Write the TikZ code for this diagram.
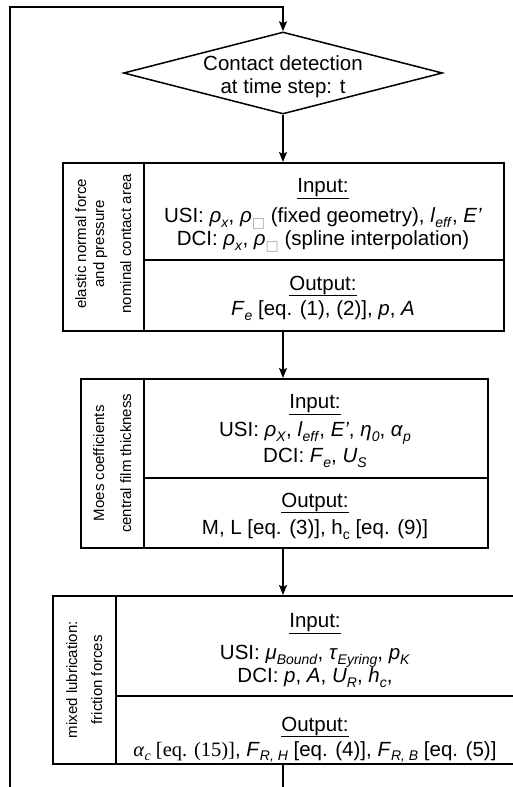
\documentclass[tikz,border=0pt]{standalone}
\usepackage{fontspec}
\setmainfont{Liberation Sans}
\newfontfamily\serifx{Liberation Serif}
\newfontfamily\djv{DejaVu Sans}
\usetikzlibrary{shapes.geometric,arrows.meta}
\newcommand\dn[1]{\raisebox{-0.45ex}{\fontsize{14}{14}\selectfont #1}}
\newcommand\sq{\dn{\color{black!35}\djv □}}
\newcommand\ti[1]{\textit{#1}}
\tikzset{
  frame/.style={draw, line width=1.5pt, inner sep=0pt},
  maintext/.style={font=\fontsize{20.5}{24}\selectfont, inner sep=0pt, anchor=center},
  labtext/.style={font=\fontsize{15}{18}\selectfont, rotate=90, align=center, inner sep=0pt},
  conn/.style={line width=1.5pt, -{Stealth[length=10pt,width=8pt,inset=2pt]}}
}
\begin{document}
\begin{tikzpicture}[x=1pt,y=-1pt]
\useasboundingbox (0,0) rectangle (513,787);
% decision
\node[frame, diamond, minimum width=319pt, minimum height=82pt] (dec) at (283,73) {};
\node[maintext] (dect1) at (283,63) {Contact detection};
\node[maintext] (dect2) at (283,88) {at time step: t};
% box 1
\node[frame, rectangle, anchor=north west, minimum width=81pt, minimum height=168pt] (lab1) at (62,162) {};
\node[frame, rectangle, anchor=north west, minimum width=360pt, minimum height=97pt] (in1) at (143,162) {};
\node[frame, rectangle, anchor=north west, minimum width=360pt, minimum height=71pt] (out1) at (143,259) {};
\node[labtext] (lab1t) at ([yshift=3pt]lab1.center) {elastic normal force\\and pressure\\[9pt]nominal contact area};
\node[maintext] (in1a) at (323,189) {\underline{Input:}};
\node[maintext] (in1b) at (323,218) {USI: \ti{ρ}\dn{\ti{x}}, \ti{ρ}\sq\ (fixed geometry), \ti{l}\dn{\ti{eff}}, \ti{E’}};
\node[maintext] (in1c) at (323,241) {DCI: \ti{ρ}\dn{\ti{x}}, \ti{ρ}\sq\ (spline interpolation)};
\node[maintext] (out1a) at (323,286) {\underline{Output:}};
\node[maintext] (out1b) at (323,311) {\ti{F}\dn{\ti{e}} [eq. (1), (2)], \ti{p}, \ti{A}};
% box 2
\node[frame, rectangle, anchor=north west, minimum width=63pt, minimum height=169pt] (lab2) at (80,378) {};
\node[frame, rectangle, anchor=north west, minimum width=344pt, minimum height=99pt] (in2) at (143,378) {};
\node[frame, rectangle, anchor=north west, minimum width=344pt, minimum height=70pt] (out2) at (143,477) {};
\node[labtext] (lab2t) at (lab2.center) {Moes coefficients\\[9pt]central film thickness};
\node[maintext] (in2a) at (315,405) {\underline{Input:}};
\node[maintext] (in2b) at (315,433) {USI: \ti{ρ}\dn{\ti{X}}, \ti{l}\dn{\ti{eff}}, \ti{E’}, \ti{η}\dn{\ti{0}}, \ti{α}\dn{\ti{p}}};
\node[maintext] (in2c) at (315,458) {DCI: \ti{F}\dn{\ti{e}}, \ti{U}\dn{\ti{S}}};
\node[maintext] (out2a) at (315,503) {\underline{Output:}};
\node[maintext] (out2b) at (315,530) {M, L [eq. (3)], h\dn{c} [eq. (9)]};
% box 3
\node[frame, rectangle, anchor=north west, minimum width=63pt, minimum height=168pt] (lab3) at (52,595) {};
\node[frame, rectangle, anchor=north west, minimum width=402pt, minimum height=100pt] (in3) at (115,595) {};
\node[frame, rectangle, anchor=north west, minimum width=402pt, minimum height=68pt] (out3) at (115,695) {};
\node[labtext] (lab3t) at (lab3.center) {mixed lubrication:\\[7pt]friction forces};
\node[maintext] (in3a) at (315,624) {\underline{Input:}};
\node[maintext] (in3b) at (315,656) {USI: \ti{μ}\dn{\ti{Bound}}, \ti{τ}\dn{\ti{Eyring}}, \ti{p}\dn{\ti{K}}};
\node[maintext] (in3c) at (315,678) {DCI: \ti{p}, \ti{A}, \ti{U}\dn{\ti{R}}, \ti{h}\dn{\ti{c}},};
\node[maintext] (out3a) at (315,727) {\underline{Output:}};
\node[maintext] (out3b) at (315,752) {{\serifx\ti{α}\dn{\ti{c}} [eq. (15)]}, \ti{F}\dn{\ti{R, H}} [eq. (4)], \ti{F}\dn{\ti{R, B}} [eq. (5)]};
% connectors
\coordinate (loopb) at (283,800);
\coordinate (loopl) at (10,7);
\draw[conn] (dec.south) -- (dec.south |- in1.north);
\draw[conn] (out1.south -| dec.south) -- (dec.south |- in2.north);
\draw[conn] (out2.south -| dec.south) -- (dec.south |- in3.north);
\draw[conn] (out3.south -| dec.south) -- (loopb) -| (loopl) -| (dec.north);
\end{tikzpicture}
\end{document}
